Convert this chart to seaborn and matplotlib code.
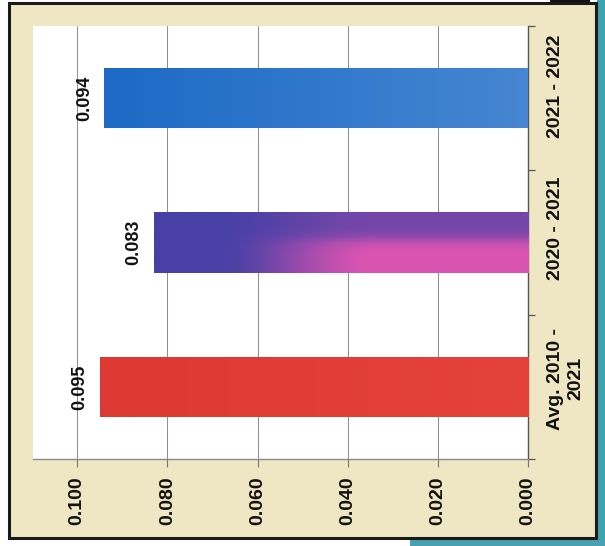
import numpy as np
import pandas as pd
import matplotlib
matplotlib.use("Agg")
import matplotlib.pyplot as plt
from matplotlib.patches import Rectangle
from matplotlib.transforms import ScaledTranslation
import seaborn as sns

# Data
categories = ["2021 - 2022", "2020 - 2021", "Avg. 2010 -\n2021"]
values = [0.094, 0.083, 0.095]
value_ticks = [0.000, 0.020, 0.040, 0.060, 0.080, 0.100]
value_tick_labels = ["0.000", "0.020", "0.040", "0.060", "0.080", "0.100"]
bar_colors = ["#2a6fc6", "#6a4ab0", "#e23b36"]

df = pd.DataFrame({"period": categories, "rate": values})

sns.set_theme(style="white")
plt.rcParams["font.family"] = ["Liberation Sans", "DejaVu Sans"]
plt.rcParams["font.weight"] = "bold"

W, H = 605, 546
fig = plt.figure(figsize=(W / 100, H / 100), dpi=100, facecolor="white")

def fbox(x0, y0, x1, y1):
    """Pixel box (top-left origin) -> figure fraction rectangle."""
    return (x0 / W, 1 - y1 / H, (x1 - x0) / W, (y1 - y0) / H)

# Page surroundings and the beige panel with its black frame
for (x0, y0, x1, y1), col in [((597, 0, 605, 546), "#3ea3ad"),
                              ((410, 540, 605, 546), "#4a9fb0"),
                              ((550, 0, 590, 3), "#111111")]:
    l, b, w, h = fbox(x0, y0, x1, y1)
    fig.add_artist(Rectangle((l, b), w, h, transform=fig.transFigure,
                             facecolor=col, edgecolor="none", zorder=0))
l, b, w, h = fbox(9, 3, 596, 538)
fig.add_artist(Rectangle((l, b), w, h, transform=fig.transFigure,
                         facecolor="#efe6c3", edgecolor="#1a1a1a",
                         linewidth=2.2, zorder=0))

# Plot area
l, b, w, h = fbox(33, 26, 528, 459)
ax = fig.add_axes([l, b, w, h])
ax.set_facecolor("white")
ax.set_zorder(1)

sns.barplot(data=df, x="rate", y="period", hue="period", palette=bar_colors,
            orient="h", width=0.42, legend=False, ax=ax, saturation=1,
            linewidth=0, zorder=3)

# Shaded fills clipped to each bar
def gradient(kind, ny=60, nx=200):
    t = np.linspace(0, 1, nx)[None, :]      # 0 = outer end, 1 = baseline
    s = np.linspace(0, 1, ny)[:, None]      # 0 = upper edge, 1 = lower edge
    if kind == "blue":
        a = np.array([28, 106, 198]) / 255
        c = np.array([70, 134, 210]) / 255
        wgt = np.broadcast_to(t, (ny, nx))
    elif kind == "purple":
        a = np.array([72, 64, 166]) / 255
        c = np.array([220, 84, 178]) / 255
        sm = np.clip((t - 0.15) / 0.45, 0, 1)
        sm = sm * sm * (3 - 2 * sm)
        vert = 0.3 + 0.7 / (1 + np.exp(-(s - 0.45) / 0.06))
        wgt = sm * vert
    else:
        a = np.array([222, 56, 50]) / 255
        c = np.array([230, 66, 60]) / 255
        wgt = np.broadcast_to(t, (ny, nx))
    return a[None, None, :] * (1 - wgt[..., None]) + c[None, None, :] * wgt[..., None]

for patch, kind, v in zip(ax.patches, ["blue", "purple", "red"], values):
    yb = patch.get_y()
    hh = patch.get_height()
    im = ax.imshow(gradient(kind), extent=(v, 0, yb + hh, yb), origin="upper",
                   aspect="auto", interpolation="bilinear", zorder=3.5)
    im.set_clip_path(patch)

ax.set_xlim(0.1098, 0.0)
ax.set_ylim(2.5, -0.5)

# Value labels beyond the bar ends
for i, v in enumerate(values):
    ax.annotate(f"{v:.3f}", (v, i), xytext=(-8, 0), textcoords="offset points",
                rotation=90, ha="right", va="center", fontsize=13,
                fontweight="bold", color="#111111", zorder=5)

# Value axis along the bottom, read sideways
ax.set_xticks(value_ticks)
ax.set_xticklabels(value_tick_labels, rotation=90, fontsize=14,
                   fontweight="bold", color="#111111")
ax.tick_params(axis="x", bottom=True, length=5.5, width=0.8, color="#777777",
               pad=7)
ax.grid(axis="x", color="#8f8f8f", linewidth=0.75)
ax.set_axisbelow(True)

# Category axis on the right
ax.yaxis.tick_right()
ax.set_yticks(range(len(categories)))
ax.set_yticklabels(categories, rotation=90, fontsize=14, fontweight="bold",
                   color="#111111", multialignment="center", va="center")
ax.tick_params(axis="y", which="major", length=0, pad=14)
ax.set_yticks([-0.5, 0.5, 1.5, 2.5], minor=True)
ax.tick_params(axis="y", which="minor", right=True, left=False, length=5,
               width=0.9, color="#555555")
shifts = [0.12, 0.14, 0.08]
for lab, dy in zip(ax.get_yticklabels(), shifts):
    lab.set_transform(lab.get_transform()
                      + ScaledTranslation(0, dy, fig.dpi_scale_trans))

ax.set_xlabel("")
ax.set_ylabel("")

for side in ["top", "left"]:
    ax.spines[side].set_visible(False)
ax.spines["right"].set_color("#555555")
ax.spines["right"].set_linewidth(1.0)
ax.spines["bottom"].set_color("#8a8a8a")
ax.spines["bottom"].set_linewidth(1.0)

fig.savefig("out.png", dpi=100, facecolor=fig.get_facecolor())
